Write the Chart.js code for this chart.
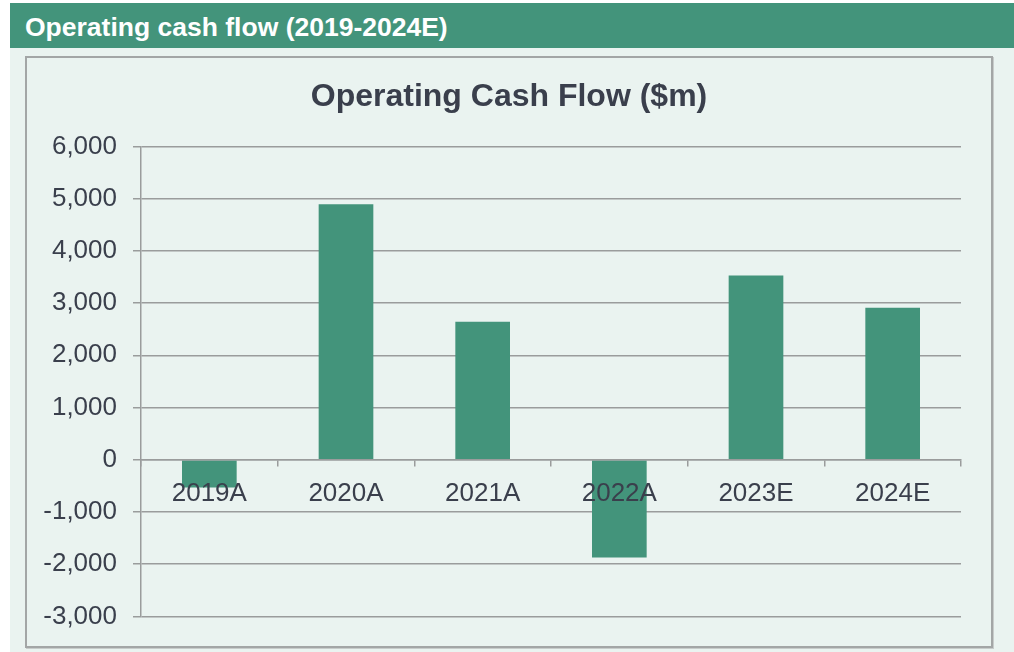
<!DOCTYPE html>
<html>
<head>
<meta charset="utf-8">
<script src="https://cdn.jsdelivr.net/npm/chart.js@4"></script>
<style>
  html, body { margin: 0; padding: 0; background: #ffffff; }
  body { width: 1014px; height: 652px; position: relative; overflow: hidden; font-family: "Liberation Sans", Arial, sans-serif; }
  #header { position: absolute; left: 10px; top: 3px; width: 1004px; height: 45px; background: #43947b; }
  #header span { position: absolute; left: 15px; top: 9px; color: #ffffff; font-weight: bold; font-size: 26.5px; line-height: 30px; }
  #panel { position: absolute; left: 10px; top: 48px; width: 1004px; height: 604px; background: #eaf3f0; }
  #box { position: absolute; left: 25px; top: 56px; width: 964px; height: 588px; border: 2px solid #a3a6a6; box-shadow: 1px 1px 0 #c8cccb; }
  #wrap { position: absolute; left: 27px; top: 58px; width: 964px; height: 590px; }
</style>
</head>
<body>
<div id="header"><span>Operating cash flow (2019-2024E)</span></div>
<div id="panel"></div>
<div id="box"></div>
<div id="wrap"><canvas id="c"></canvas></div>
<script>
const categories = ["2019A", "2020A", "2021A", "2022A", "2023E", "2024E"];
const cashFlow = [-530, 4890, 2640, -1870, 3530, 2910];
const chartTitle = "Operating Cash Flow ($m)";
const yMin = -3000, yMax = 6000, yStep = 1000;

const textColor = "#3a3f4c";
const gridColor = "#9a9c9c";
const fontFam = "'Liberation Sans', Arial, sans-serif";

new Chart(document.getElementById("c"), {
  type: "bar",
  data: {
    labels: categories,
    datasets: [{
      data: cashFlow,
      backgroundColor: "#43947b",
      borderWidth: 0,
      barPercentage: 0.4,
      categoryPercentage: 1.0
    }]
  },
  options: {
    responsive: true,
    maintainAspectRatio: false,
    animation: false,
    layout: { padding: { left: 0, right: 0, top: 0, bottom: 27 } },
    plugins: {
      legend: { display: false },
      tooltip: { enabled: false },
      title: {
        display: true,
        text: chartTitle,
        color: textColor,
        font: { family: fontFam, size: 32, weight: "bold" },
        padding: { top: 20, bottom: 30 }
      }
    },
    scales: {
      x: {
        position: { y: 0 },
        offset: true,
        grid: {
          display: true,
          offset: true,
          drawOnChartArea: false,
          drawTicks: true,
          tickLength: 6,
          color: gridColor,
          lineWidth: 1.5,
          z: 1
        },
        border: { display: true, color: gridColor, width: 1.5, z: 1 },
        ticks: {
          color: textColor,
          padding: 12,
          maxRotation: 0,
          z: 1,
          font: { family: fontFam, size: 26 }
        }
      },
      y: {
        min: yMin,
        max: yMax,
        afterFit: (s) => { s.width = 114; },
        grid: {
          color: gridColor,
          lineWidth: 1.5,
          drawTicks: true,
          tickLength: 8
        },
        border: { display: true, color: gridColor, width: 1.5 },
        ticks: {
          stepSize: yStep,
          color: textColor,
          padding: 16,
          font: { family: fontFam, size: 26 },
          callback: (v) => v.toLocaleString("en-US")
        }
      },
      yRightSpace: {
        position: "right",
        min: yMin,
        max: yMax,
        afterFit: (s) => { s.width = 30; },
        grid: { display: false },
        border: { display: false },
        ticks: { display: false }
      }
    }
  }
});
</script>
</body>
</html>
